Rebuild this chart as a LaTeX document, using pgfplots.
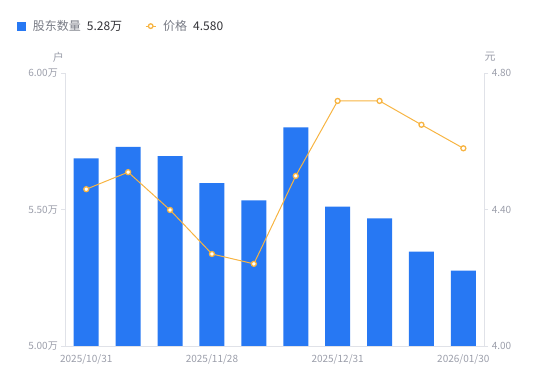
\documentclass[border=0pt]{standalone}
\usepackage{fontspec}
\setmainfont{Noto Sans CJK SC}
\usepackage{pgfplots}
\pgfplotsset{compat=1.18}
\definecolor{barblue}{RGB}{39,120,243}
\definecolor{lineorange}{RGB}{247,180,66}
\definecolor{axisgray}{RGB}{224,226,232}
\definecolor{labelgray}{RGB}{155,158,170}
\definecolor{legendgray}{RGB}{120,123,133}
\definecolor{darktext}{RGB}{50,50,55}
\pgfplotsset{
  common/.style={
    at={(65.3pt,35pt)}, anchor=south west, scale only axis,
    width=419pt, height=272.7pt,
    xmin=-0.5, xmax=9.5,
    xtick={0,3,6,9},
    xticklabels={2025/10/31,2025/11/28,2025/12/31,2026/01/30},
    xtick style={draw=none},
    ytick style={draw=axisgray, line width=0.8pt},
    tick align=outside, major tick length=4pt,
    axis line style={draw=axisgray, line width=0.8pt, -},
    ticklabel style={font=\fontsize{10}{12}\selectfont, text=labelgray},
    xticklabel style={yshift=-1.5pt},
    /pgf/number format/assume math mode=true,
  }
}
\begin{document}
\begin{tikzpicture}[x=1pt,y=1pt]
\useasboundingbox (0,0) rectangle (550,381);
\begin{axis}[common,
  axis x line*=bottom, axis y line*=left,
  ymin=5, ymax=6, ytick={5,5.5,6},
  yticklabels={5.00万,5.50万,6.00万},
  legend style={at={(-0.116,1.173)}, anchor=west, draw=none, fill=none,
    font=\fontsize{12}{14}\selectfont, inner sep=0pt},
  legend columns=2,
  legend cell align=left,
  /tikz/every odd column/.append style={column sep=5pt},
  /tikz/every even column/.append style={column sep=21pt},
]
\addplot[ybar, bar width=25pt, fill=barblue, draw=none,
  legend image code/.code={\fill[barblue] (0pt,-4.5pt) rectangle (9pt,4.5pt);}]
  coordinates {(0,5.688) (1,5.730) (2,5.696) (3,5.597) (4,5.534)
               (5,5.802) (6,5.511) (7,5.468) (8,5.346) (9,5.276)};
\addlegendentry{\textcolor{legendgray}{股东数量}\hspace{6pt}\textcolor{darktext}{5.28万}}
\addlegendimage{legend image code/.code={
  \draw[lineorange,line width=1pt] (0pt,0pt)--(10pt,0pt);
  \draw[lineorange,line width=1.3pt,fill=white] (5pt,0pt) circle (2.3pt);}}
\addlegendentry{\textcolor{legendgray}{价格}\hspace{6pt}\textcolor{darktext}{4.580}}
\end{axis}
\begin{axis}[common,
  hide x axis, axis y line*=right,
  ymin=4, ymax=4.8, ytick={4,4.4,4.8},
  yticklabel style={/pgf/number format/.cd, fixed, fixed zerofill, precision=2},
]
\addplot[lineorange, line width=1pt, mark=*, mark size=2.5pt,
  mark options={fill=white, draw=lineorange, line width=1.3pt}]
  coordinates {(0,4.460) (1,4.510) (2,4.399) (3,4.270) (4,4.241)
               (5,4.499) (6,4.719) (7,4.719) (8,4.649) (9,4.580)};
\end{axis}
\node[font=\fontsize{11}{13}\selectfont, text=labelgray] at (58.3,324) {户};
\node[font=\fontsize{11}{13}\selectfont, text=labelgray] at (490,324) {元};
\end{tikzpicture}
\end{document}
